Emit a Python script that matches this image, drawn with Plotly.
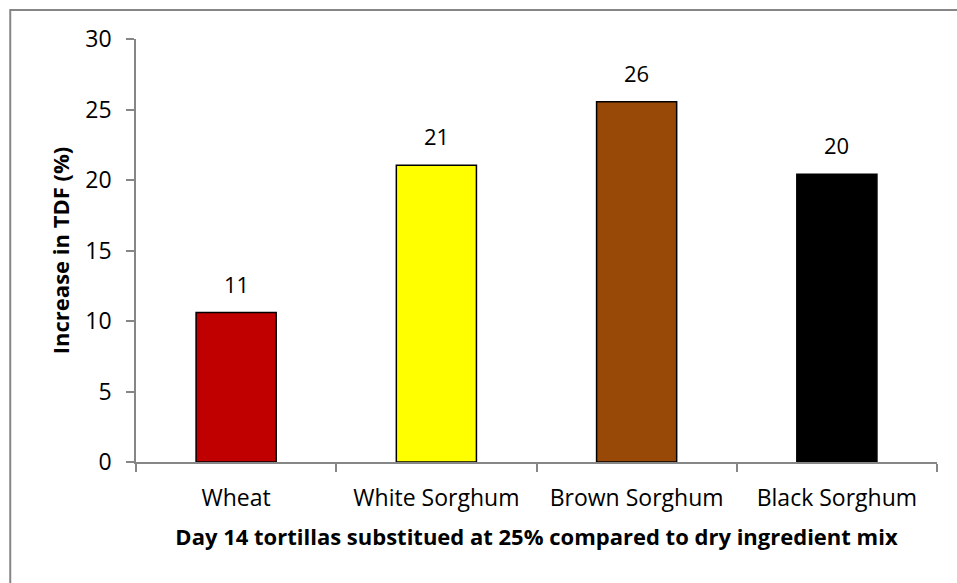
import plotly.graph_objects as go

categories = ["Wheat", "White Sorghum", "Brown Sorghum", "Black Sorghum"]
values = [10.6, 21.05, 25.55, 20.4]
labels = ["11", "21", "26", "20"]
colors = ["#C00000", "#FFFF00", "#984807", "#000000"]
y_ticks = [0, 5, 10, 15, 20, 25, 30]

FONT = "'Open Sans', sans-serif"

fig = go.Figure()
fig.add_trace(go.Bar(
    x=categories, y=values,
    marker=dict(color=colors, line=dict(color="#000000", width=1.5)),
    width=0.4,
    hoverinfo="skip",
))

for c, v, t in zip(categories, values, labels):
    fig.add_annotation(x=c, y=v, text=t, showarrow=False, yanchor="bottom",
                       yshift=12, font=dict(family=FONT, size=22, color="#000000"))

fig.update_layout(
    width=957, height=583,
    margin=dict(l=136, r=20, t=39, b=121),
    paper_bgcolor="white", plot_bgcolor="white",
    showlegend=False,
    font=dict(family=FONT, color="#000000"),
    xaxis=dict(
        type="category", range=[-0.5, 3.5],
        showline=True, linecolor="#868686", linewidth=1.5,
        ticks="outside", tickson="boundaries", ticklen=8, tickcolor="#868686", tickwidth=1.5,
        tickfont=dict(family=FONT, size=23, color="#000000"),
        ticklabelstandoff=15,
        title=dict(text="<b>Day 14 tortillas substitued at 25% compared to dry ingredient mix</b>",
                   font=dict(family=FONT, size=22, color="#000000"), standoff=17),
        showgrid=False, zeroline=False,
    ),
    yaxis=dict(
        range=[0, 30], tickvals=y_ticks,
        showline=True, linecolor="#868686", linewidth=1.5,
        ticks="outside", ticklen=8, tickcolor="#868686", tickwidth=1.5,
        tickfont=dict(family=FONT, size=23, color="#000000"),
        ticklabelstandoff=10,
        title=dict(text="<b>Increase in TDF (%)</b>",
                   font=dict(family=FONT, size=22, color="#000000"), standoff=10),
        showgrid=False, zeroline=False,
    ),
)

fig.add_shape(type="rect", xref="paper", yref="paper",
              x0=-0.157, x1=1.2, y0=-0.5, y1=1.0686,
              line=dict(color="#868686", width=2), fillcolor="rgba(0,0,0,0)", layer="below")

fig.write_html("out.html")
